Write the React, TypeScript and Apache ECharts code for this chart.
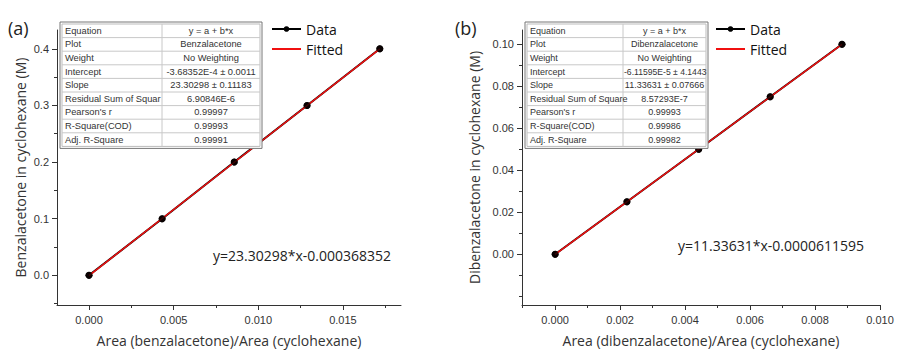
import React, { useEffect, useRef } from "react";
import * as echarts from "echarts";

// ---- data ----
const dataAX = [0, 0.00432, 0.00858, 0.01288, 0.01718];
const dataAY = [0, 0.1, 0.2, 0.3, 0.4];
const fitAX = [0, 0.01718];
const fitAY = [-0.00037, 0.4];

const dataBX = [0, 0.00221, 0.00442, 0.00662, 0.00883];
const dataBY = [0, 0.025, 0.05, 0.075, 0.1];
const fitBX = [0, 0.00883];
const fitBY = [-0.00006, 0.09999];

const ticksAX = [0, 0.005, 0.01, 0.015];
const minorAX = [0.0025, 0.0075, 0.0125, 0.0175];
const ticksAY = [0, 0.1, 0.2, 0.3, 0.4];
const minorAY = [-0.05, 0.05, 0.15, 0.25, 0.35];
const ticksBX = [0, 0.002, 0.004, 0.006, 0.008, 0.01];
const minorBX = [-0.001, 0.001, 0.003, 0.005, 0.007, 0.009];
const ticksBY = [0, 0.02, 0.04, 0.06, 0.08, 0.1];
const minorBY = [-0.02, -0.01, 0.01, 0.03, 0.05, 0.07, 0.09];

const tableLabelsA = ["Equation", "Plot", "Weight", "Intercept", "Slope", "Residual Sum of Squar", "Pearson's r", "R-Square(COD)", "Adj. R-Square"];
const tableValuesA = ["y = a + b*x", "Benzalacetone", "No Weighting", "-3.68352E-4 ± 0.0011", "23.30298 ± 0.11183", "6.90846E-6", "0.99997", "0.99993", "0.99991"];
const tableLabelsB = ["Equation", "Plot", "Weight", "Intercept", "Slope", "Residual Sum of Square", "Pearson's r", "R-Square(COD)", "Adj. R-Square"];
const tableValuesB = ["y = a + b*x", "Dibenzalacetone", "No Weighting", "-6.11595E-5 ± 4.14432E", "11.33631 ± 0.07666", "8.57293E-7", "0.99993", "0.99986", "0.99982"];

const equationA = "y=23.30298*x-0.000368352";
const equationB = "y=11.33631*x-0.0000611595";
const yTitleA = "Benzalacetone in cyclohexane (M)";
const yTitleB = "Dibenzalacetone in cyclohexane (M)";
const xTitleA = "Area (benzalacetone)/Area (cyclohexane)";
const xTitleB = "Area (dibenzalacetone)/Area (cyclohexane)";

const zip = (xs: number[], ys: number[]) => xs.map((x, i) => [x, ys[i]]);

const TITLE_FONT = "'Open Sans', 'Noto Sans', sans-serif";
const TICK_FONT = "'Liberation Sans', Arial, sans-serif";

function buildTable(x0: number, y0: number, w1: number, w2: number, rowH: number, labels: string[], values: string[], fs: number, clipValues: boolean) {
  const els: any[] = [];
  const w = w1 + w2 + 4;
  const h = rowH * labels.length + 4;
  els.push({ type: "rect", shape: { x: x0, y: y0, width: w, height: h }, style: { fill: "#fff", stroke: "#777", lineWidth: 1 }, z: 10 });
  els.push({ type: "rect", shape: { x: x0 + 2, y: y0 + 2, width: w - 4, height: h - 4 }, style: { fill: "#fff", stroke: "#bbb", lineWidth: 1 }, z: 10 });
  for (let i = 1; i < labels.length; i++) {
    const yy = y0 + 2 + i * rowH;
    els.push({ type: "line", shape: { x1: x0 + 2, y1: yy, x2: x0 + w - 2, y2: yy }, style: { stroke: "#c8c8c8", lineWidth: 1 }, z: 11 });
  }
  els.push({ type: "line", shape: { x1: x0 + 2 + w1, y1: y0 + 2, x2: x0 + 2 + w1, y2: y0 + h - 2 }, style: { stroke: "#c8c8c8", lineWidth: 1 }, z: 11 });
  labels.forEach((lab, i) => {
    const cy = y0 + 2 + i * rowH + rowH / 2;
    els.push({ type: "text", x: x0 + 5, y: cy, style: { text: lab, fontSize: fs, fontFamily: TICK_FONT, fill: "#333", verticalAlign: "middle", align: "left" }, z: 12 });
    const v = values[i];
    const tooWide = clipValues && v.length > 20;
    els.push({
      type: "text",
      x: tooWide ? x0 + 3 + w1 : x0 + 2 + w1 + w2 / 2,
      y: cy,
      style: tooWide
        ? { text: v, fontSize: fs - 0.4, fontFamily: TICK_FONT, fill: "#333", verticalAlign: "middle", align: "left", width: w2 + 1, overflow: "truncate", ellipsis: "" }
        : { text: v, fontSize: fs, fontFamily: TICK_FONT, fill: "#333", verticalAlign: "middle", align: "center" },
      z: 12,
    });
  });
  return els;
}

function mainX(gridIndex: number, min: number, max: number, ticks: number[], digits: number, name: string) {
  return {
    type: "value", gridIndex, min, max, name, nameLocation: "middle", nameGap: 28, position: "bottom",
    nameTextStyle: { fontSize: 14, fontFamily: TITLE_FONT, color: "#333" },
    axisLine: { show: true, onZero: false, lineStyle: { color: "#333", width: 1 } },
    axisTick: { show: true, length: 5, customValues: ticks, lineStyle: { color: "#333" } },
    axisLabel: { show: true, customValues: ticks, margin: 9, fontSize: 11, fontFamily: TICK_FONT, color: "#333", formatter: (v: number) => v.toFixed(digits) },
    splitLine: { show: false },
  };
}
function minorX(gridIndex: number, min: number, max: number, ticks: number[]) {
  return {
    type: "value", gridIndex, min, max, position: "bottom", offset: 0,
    axisLine: { show: false, onZero: false },
    axisTick: { show: true, length: 3, customValues: ticks, lineStyle: { color: "#333" } },
    axisLabel: { show: false },
    splitLine: { show: false },
  };
}
function mainY(gridIndex: number, min: number, max: number, ticks: number[], digits: number, name: string, gap: number) {
  return {
    type: "value", gridIndex, min, max, name, nameLocation: "middle", nameGap: gap, position: "left",
    nameTextStyle: { fontSize: 14, fontFamily: TITLE_FONT, color: "#333" },
    axisLine: { show: true, onZero: false, lineStyle: { color: "#333", width: 1 } },
    axisTick: { show: true, length: 5, customValues: ticks, lineStyle: { color: "#333" } },
    axisLabel: { show: true, customValues: ticks, margin: 8, fontSize: 11, fontFamily: TICK_FONT, color: "#333", formatter: (v: number) => v.toFixed(digits) },
    splitLine: { show: false },
  };
}
function minorY(gridIndex: number, min: number, max: number, ticks: number[]) {
  return {
    type: "value", gridIndex, min, max, position: "left", offset: 0,
    axisLine: { show: false, onZero: false },
    axisTick: { show: true, length: 3, customValues: ticks, lineStyle: { color: "#333" } },
    axisLabel: { show: false },
    splitLine: { show: false },
  };
}

function seriesFor(xi: number, yi: number, dx: number[], dy: number[], fx: number[], fy: number[]) {
  return [
    { name: "Data", type: "line", xAxisIndex: xi, yAxisIndex: yi, data: zip(dx, dy), symbol: "circle", symbolSize: 7, showSymbol: true, lineStyle: { color: "#000", width: 2 }, itemStyle: { color: "#000" }, z: 2 },
    { name: "Fitted", type: "line", xAxisIndex: xi, yAxisIndex: yi, data: zip(fx, fy), symbol: "none", lineStyle: { color: "#f01010", width: 1.5 }, itemStyle: { color: "#f01010" }, z: 3 },
    { name: "markers", type: "scatter", xAxisIndex: xi, yAxisIndex: yi, data: zip(dx, dy), symbol: "circle", symbolSize: 7, itemStyle: { color: "#0a0000" }, z: 4, silent: true },
  ];
}

const legendItems = [{ name: "Data", itemStyle: { borderWidth: 0 } }, { name: "Fitted", itemStyle: { opacity: 0 } }];

export default function App() {
  const ref = useRef<HTMLDivElement>(null);
  useEffect(() => {
    document.body.style.margin = "0";
    const chart = echarts.init(ref.current!, null, { renderer: "svg" });
    const legendBase = { data: legendItems, orient: "vertical", top: 20, itemWidth: 29, itemHeight: 7, itemGap: 2, padding: [0, 0, 0, 0], textStyle: { fontSize: 14, lineHeight: 18, fontFamily: TITLE_FONT, color: "#111" } };
    const option: any = {
      animation: false,
      backgroundColor: "#fff",
      grid: [
        { left: 57, top: 30, width: 344, height: 278 },
        { left: 522, top: 30, width: 358, height: 279 },
      ],
      xAxis: [
        mainX(0, -0.00189, 0.01843, ticksAX, 3, xTitleA),
        mainX(1, -0.00102, 0.010, ticksBX, 3, xTitleB),
        minorX(0, -0.00189, 0.01843, minorAX),
        minorX(1, -0.00102, 0.010, minorBX),
      ],
      yAxis: [
        mainY(0, -0.0524, 0.4332, ticksAY, 1, yTitleA, 30),
        mainY(1, -0.0242, 0.1068, ticksBY, 2, yTitleB, 41),
        minorY(0, -0.0524, 0.4332, minorAY),
        minorY(1, -0.0242, 0.1068, minorBY),
      ],
      legend: [
        { ...legendBase, left: 271 },
        { ...legendBase, left: 715 },
      ],
      series: [
        ...seriesFor(0, 0, dataAX, dataAY, fitAX, fitAY),
        ...seriesFor(1, 1, dataBX, dataBY, fitBX, fitBY),
      ],
      graphic: {
        elements: [
          ...buildTable(60, 22, 100, 98, 13.6, tableLabelsA, tableValuesA, 9.3, false),
          ...buildTable(525, 22, 96, 83, 13.6, tableLabelsB, tableValuesB, 9, true),
          { type: "text", x: 8, y: 28, style: { text: "(a)", fontSize: 18, fontFamily: TITLE_FONT, fill: "#222", verticalAlign: "middle" } },
          { type: "text", x: 455, y: 28, style: { text: "(b)", fontSize: 18, fontFamily: TITLE_FONT, fill: "#222", verticalAlign: "middle" } },
          { type: "text", x: 213, y: 255, style: { text: equationA, fontSize: 14, fontFamily: TITLE_FONT, fill: "#222", verticalAlign: "middle" } },
          { type: "text", x: 678, y: 245, style: { text: equationB, fontSize: 14, fontFamily: TITLE_FONT, fill: "#222", verticalAlign: "middle" } },
        ],
      },
    };
    chart.setOption(option);
    return () => chart.dispose();
  }, []);
  return <div ref={ref} style={{ position: "absolute", left: 0, top: 0, width: 898, height: 352 }} />;
}
